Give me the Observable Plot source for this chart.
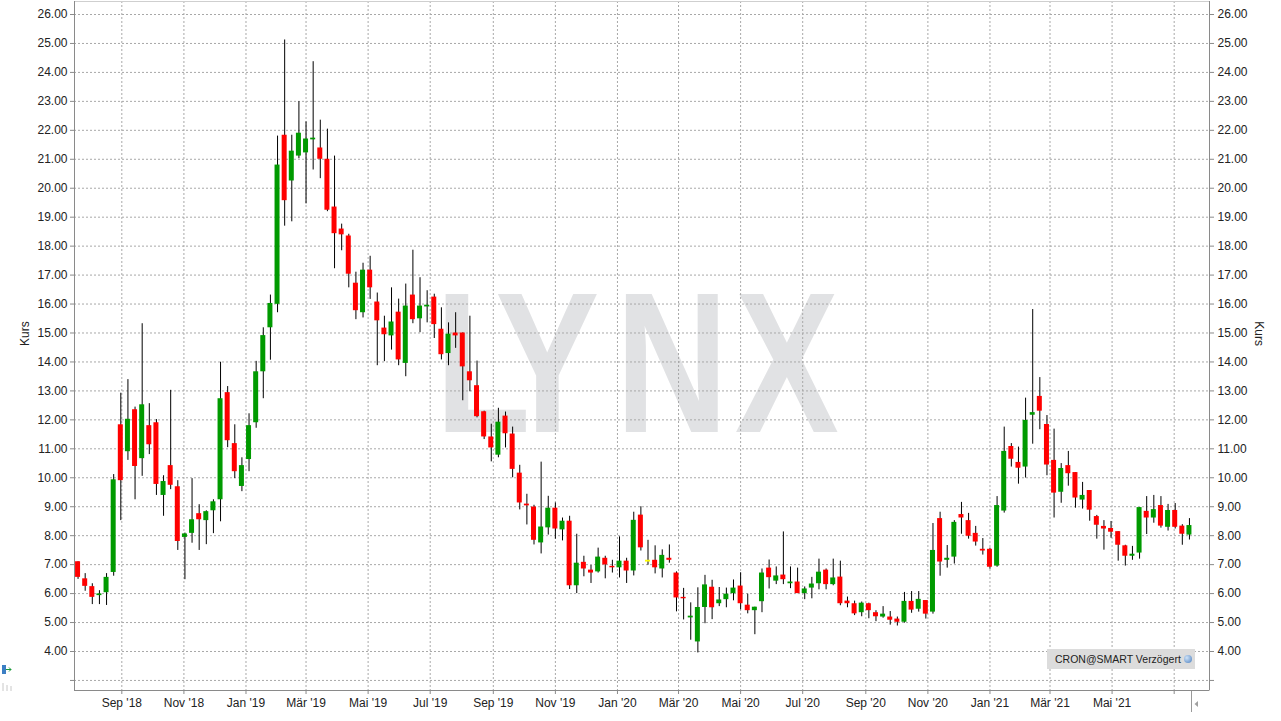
<!DOCTYPE html>
<html><head><meta charset="utf-8">
<script src="https://cdn.jsdelivr.net/npm/d3@7"></script>
<script src="https://cdn.jsdelivr.net/npm/@observablehq/plot@0.6"></script>
<style>
html,body{margin:0;padding:0;background:#fff;}
#chart{position:relative;width:1281px;height:721px;overflow:hidden;font-family:"Liberation Sans",Arial,sans-serif;}
#chart svg{display:block;}
#src{position:absolute;left:1047px;top:649px;width:148px;height:20px;background:#dcdcdc;font-size:10.5px;color:#222;line-height:20px;box-sizing:border-box;padding-left:8px;white-space:nowrap;}
#src .globe{position:absolute;left:137px;top:6px;width:8px;height:8px;border-radius:50%;background:radial-gradient(circle at 35% 35%,#cfe3f7,#4b7fc0);}
</style></head><body><div id="chart"><div id="src">CRON@SMART Verzögert<span class="globe"></span></div></div>
<script>
// Weekly candles, first week
const firstWeek = "2018-07-20";
const open = [7.10,6.51,6.24,5.93,6.03,6.73,11.83,10.90,12.35,10.66,11.80,11.90,9.39,10.42,9.69,7.94,8.08,8.76,8.52,8.86,
9.24,12.94,11.18,9.70,10.63,11.90,13.66,15.18,15.99,21.83,20.25,21.11,21.22,21.67,21.39,21.00,19.35,18.59,18.35,16.72,
15.70,17.17,16.07,15.17,14.90,15.72,13.95,16.31,15.49,15.90,16.24,15.13,14.29,15.00,15.00,13.66,13.18,12.28,11.41,10.78,
12.13,11.51,10.16,9.09,8.99,7.75,8.27,8.95,8.20,8.50,6.27,7.08,6.81,6.75,7.22,6.94,6.89,7.12,6.78,8.71,
7.12,7.15,6.85,7.22,6.71,5.87,5.16,4.33,5.52,6.22,5.65,5.79,6.00,6.26,5.60,5.41,5.72,6.88,6.43,6.64,
6.34,6.40,6.00,6.19,6.34,6.81,6.31,6.57,5.74,5.65,5.34,5.65,5.34,5.19,5.19,5.12,5.01,5.73,5.46,5.76,
5.36,8.59,7.15,7.26,8.73,8.52,8.08,7.53,7.53,6.95,8.85,11.08,10.53,10.37,12.16,12.81,11.84,10.60,9.50,10.42,
10.18,9.23,9.56,8.66,8.32,8.25,8.14,7.65,7.29,7.40,8.84,8.61,9.04,8.29,8.87,8.33,8.02];
const high = [7.10,6.69,6.34,6.10,6.69,10.11,12.92,13.39,12.44,15.32,12.56,12.01,10.07,13.02,9.90,8.09,9.97,9.07,8.86,9.24,
13.99,13.15,11.83,10.69,12.21,14.02,15.18,16.31,21.80,25.12,21.83,22.99,22.29,24.37,22.35,22.04,21.11,18.76,18.41,17.10,
17.41,17.65,16.38,15.58,16.56,16.17,16.69,17.86,16.91,16.46,16.34,15.87,15.35,15.70,15.00,15.58,14.03,12.30,11.85,12.40,
12.27,11.75,10.43,9.43,9.05,10.54,9.36,9.13,8.61,8.67,8.05,7.29,6.97,7.57,7.29,7.15,7.96,7.22,8.81,9.00,
7.84,7.65,7.51,7.68,6.75,6.18,5.68,6.20,6.63,6.46,6.21,6.19,6.47,6.72,5.98,5.53,6.85,7.16,6.92,8.13,
6.92,6.88,6.23,6.56,7.19,6.85,7.19,7.12,5.88,5.74,5.71,5.67,5.41,5.55,5.38,5.19,6.04,6.07,6.07,5.76,
8.42,8.81,7.66,8.52,9.15,8.77,8.32,7.90,7.57,9.35,11.75,11.18,11.06,12.75,15.81,13.46,12.15,11.68,10.49,10.91,
10.18,9.84,9.56,8.70,8.52,8.49,8.14,7.67,7.63,8.97,9.35,9.39,9.35,9.08,9.11,8.38,8.59];
const low = [6.49,6.08,5.62,5.62,5.59,6.60,8.52,10.60,9.24,10.05,10.80,9.39,8.67,9.59,7.49,6.48,7.74,7.49,7.69,8.07,
8.48,11.04,9.97,9.52,10.21,11.71,12.73,14.06,15.70,18.69,18.84,21.02,19.46,20.63,20.33,19.19,17.22,17.84,16.56,15.46,
15.52,16.16,13.87,14.01,14.41,13.87,13.49,15.32,15.01,15.35,14.81,14.07,13.87,14.47,12.66,12.97,12.07,11.32,10.55,10.69,
11.03,10.00,8.89,8.37,7.68,7.37,8.02,7.88,7.82,6.14,6.00,6.58,6.35,6.71,6.51,6.71,6.54,6.35,6.61,7.47,
6.98,6.68,6.54,7.05,5.37,5.09,4.39,3.95,4.96,5.10,5.55,5.51,5.75,5.44,5.30,4.58,5.34,6.16,6.31,6.31,
6.17,6.00,5.79,5.82,6.13,6.13,6.27,5.58,5.51,5.24,5.20,5.13,5.03,5.15,4.91,4.88,4.98,5.32,5.36,5.12,
5.29,6.60,6.88,7.02,8.05,7.88,7.64,7.33,6.84,6.91,8.78,10.37,9.78,9.99,11.16,11.66,10.07,8.61,9.12,9.71,
8.95,8.92,8.50,7.88,7.50,7.91,7.12,6.95,7.15,7.19,8.04,8.43,8.26,8.16,8.23,7.67,7.85];
const close = [6.56,6.25,5.87,5.99,6.56,9.93,9.90,12.02,10.39,12.52,11.14,9.77,9.87,9.74,7.80,8.06,8.55,8.55,8.83,9.17,
12.73,11.28,10.21,10.42,11.80,13.66,14.91,16.02,20.80,19.57,21.28,21.90,21.70,21.73,21.00,19.24,18.43,18.39,17.03,15.77,
17.17,16.56,15.42,14.94,15.38,14.07,15.93,15.46,15.93,15.96,15.29,14.25,14.96,14.90,13.83,13.35,12.11,11.41,11.03,11.92,
11.52,10.29,9.13,9.03,7.84,8.30,8.95,8.23,8.50,6.27,7.05,6.85,6.71,7.26,6.99,6.89,7.12,6.78,8.53,7.58,
7.12,6.89,7.32,7.15,5.85,5.82,5.22,5.52,6.30,5.51,5.78,5.98,6.19,5.65,5.41,5.53,6.71,6.55,6.61,6.48,
6.40,6.00,6.16,6.33,6.74,6.31,6.54,5.65,5.65,5.30,5.67,5.41,5.20,5.29,5.08,5.01,5.73,5.43,5.80,5.29,
7.49,7.09,7.22,8.46,8.61,7.98,7.78,7.47,6.91,9.04,10.91,10.64,10.33,11.98,12.25,12.30,10.44,9.47,10.32,10.14,
9.30,9.39,8.88,8.36,8.23,8.12,7.67,7.29,7.36,8.97,8.61,8.90,8.33,8.87,8.29,8.05,8.35];

const yTicks = [3,4,5,6,7,8,9,10,11,12,13,14,15,16,17,18,19,20,21,22,23,24,25,26];
const xTickDates = ["2018-09-01","2018-11-01","2019-01-01","2019-03-01","2019-05-01","2019-07-01","2019-09-01","2019-11-01",
"2020-01-01","2020-03-01","2020-05-01","2020-07-01","2020-09-01","2020-11-01","2021-01-01","2021-03-01","2021-05-01","2021-07-01"];
const xTickLabels = ["Sep '18","Nov '18","Jan '19","Mär '19","Mai '19","Jul '19","Sep '19","Nov '19",
"Jan '20","Mär '20","Mai '20","Jul '20","Sep '20","Nov '20","Jan '21","Mär '21","Mai '21",""];
const watermarkText = "LYNX";

const xDomain = [new Date("2018-07-16T12:00Z"), new Date("2021-08-04T17:00Z")];
const yDomain = [2.653, 26.449];

const GREEN = "#009a00", RED = "#ff0000", YELLOW = "#ffff00";
const start = new Date(firstWeek + "T00:00Z");
const data = open.map((o, i) => ({
  date: d3.utcDay.offset(start, 7 * i),
  open: o, high: high[i], low: low[i], close: close[i],
  color: close[i] > o ? GREEN : close[i] < o ? RED : YELLOW
}));
const xTicks = xTickDates.map(s => new Date(s + "T00:00Z"));
const labelMap = new Map(xTicks.map((d, i) => [+d, xTickLabels[i]]));

// background watermark of the trading terminal (one text element, per-letter spacing)
function watermark() {
  return d3.create("svg:text")
    .attr("fill", "#e1e2e4")
    .attr("font-family", "'Liberation Sans', Arial, sans-serif")
    .attr("font-weight", "bold")
    .attr("font-size", 200)
    .attr("text-anchor", "start")
    .attr("transform", "translate(0,431.7) scale(0.78,1)")
    .attr("x", 558)
    .attr("y", 0)
    .attr("dx", "0 -27 20.8 8.5")
    .text(watermarkText)
    .node();
}

const chart = Plot.plot({
  width: 1281, height: 721,
  marginLeft: 74, marginRight: 72, marginTop: 1, marginBottom: 31,
  style: {fontFamily: "'Liberation Sans', Arial, sans-serif", fontSize: "12px", color: "#222", background: "#fff"},
  x: {type: "utc", domain: xDomain},
  y: {domain: yDomain},
  marks: [
    watermark,
    Plot.ruleY(yTicks, {stroke: "#a8a8a8", strokeDasharray: "2,2"}),
    Plot.ruleX(xTicks, {stroke: "#a8a8a8", strokeDasharray: "2,2"}),
    Plot.frame({stroke: "#cfcfcf"}),
    Plot.ruleX(xDomain, {stroke: "#8a8a8a"}),
    Plot.ruleY([yDomain[0]], {stroke: "#8a8a8a"}),
    Plot.ruleX(data, {x: "date", y1: "low", y2: "high", stroke: "#000", strokeWidth: 1}),
    Plot.rect(data.filter(d => d.open !== d.close), {x1: "date", x2: "date", y1: "open", y2: "close", fill: "color", insetLeft: -2.5, insetRight: -2.5}),
    Plot.rect(data.filter(d => d.open === d.close), {x1: "date", x2: "date", y1: "open", y2: "close", fill: "color", insetLeft: -2.5, insetRight: -2.5, insetTop: -0.9, insetBottom: -0.9}),
    Plot.axisY({anchor: "left", ticks: yTicks, tickFormat: d => d >= 4 ? d.toFixed(2) : "", tickSize: 4, tickPadding: 3, label: null, stroke: "#8a8a8a", fill: "#222"}),
    Plot.axisY({anchor: "right", ticks: yTicks, tickFormat: d => d >= 4 ? d.toFixed(2) : "", tickSize: 4, tickPadding: 4, label: null, stroke: "#8a8a8a", fill: "#222"}),
    Plot.axisX({ticks: xTicks, tickFormat: d => labelMap.get(+d), tickSize: 4, tickPadding: 4, label: null, stroke: "#8a8a8a", fill: "#222"}),
    Plot.text(["Kurs"], {frameAnchor: "left", dx: -49, rotate: -90, fontSize: 12, fill: "#222"}),
    Plot.text(["Kurs"], {frameAnchor: "right", dx: 49, rotate: 90, fontSize: 12, fill: "#222"})
  ]
});
const root = document.getElementById("chart");
root.insertBefore(chart, root.firstChild);

// small UI decorations of the original terminal screenshot
const svg = d3.select(chart);
const deco = svg.append("g");
deco.append("rect").attr("x", 2).attr("y", 665).attr("width", 4).attr("height", 9).attr("fill", "#3c7fc4");
deco.append("path").attr("d", "M6,669.5H11M9,667.5L11,669.5L9,671.5").attr("stroke", "#1a9a3a").attr("fill", "none");
deco.append("path").attr("d", "M3,683V691M7,685V691M11,686V691").attr("stroke", "#c8c8c8");
deco.append("line").attr("x1", 1191.5).attr("x2", 1191.5).attr("y1", 691).attr("y2", 712).attr("stroke", "#9a9a9a");
deco.append("path").attr("d", "M1194.5,704L1198,701V707Z").attr("fill", "#a0a0a0");
</script></body></html>
